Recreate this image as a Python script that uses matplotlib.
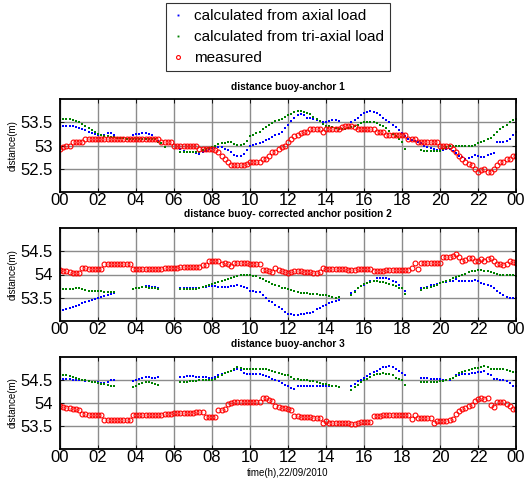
import numpy as np
import matplotlib
matplotlib.use("Agg")
import matplotlib.pyplot as plt

nan = float("nan")

# time axis: every 10 minutes, hours 0..24
hours = [i / 6 for i in range(145)]
xtick_vals = list(range(0, 25, 2))
xtick_labels = ["00", "02", "04", "06", "08", "10", "12", "14", "16", "18", "20", "22", "00"]

titles = ["distance buoy-anchor 1",
          "distance buoy- corrected anchor position 2",
          "distance buoy-anchor 3"]
series_names = ["calculated from axial load", "calculated from tri-axial load", "measured"]
ylims = [(52.0, 54.0), (53.0, 55.0), (53.0, 55.0)]
yticks = [[52.5, 53.0, 53.5], [53.5, 54.0, 54.5], [53.5, 54.0, 54.5]]
ytick_labels = [["52.5", "53", "53.5"], ["53.5", "54", "54.5"], ["53.5", "54", "54.5"]]

# ---- panel 1 ----
axial_1 = [
    53.4, 53.42, 53.43, 53.43, 53.42, 53.4,
    53.38, 53.36, 53.33, 53.3, 53.27, 53.24,
    53.22, 53.22, 53.23, 53.27, 53.26, 53.23,
    nan, nan, nan, nan, nan, 53.23,
    53.24, 53.25, 53.26, 53.27, 53.25, 53.22,
    53.15, 53.1, nan, nan, nan, nan,
    nan, nan, 52.93, 52.88, 52.86, 52.85,
    52.85, 52.83, 52.82, 52.85, 52.88, 52.92,
    52.95, 52.96, 52.97, 52.97, 52.93, 52.9,
    52.85, 52.8, 52.78, 52.78, 52.82, 52.9,
    53.0, 53.02, 53.04, 53.05, 53.08, 53.12,
    53.15, 53.18, 53.22, 53.25, 53.3, 53.37,
    53.45, 53.52, 53.6, 53.65, 53.67, 53.66,
    53.6, 53.59, 53.57, 53.55, 53.53, 53.5,
    53.5, 53.52, 53.55, 53.55, 53.53, nan,
    nan, nan, 53.5, 53.55, 53.6, 53.65,
    53.7, 53.72, 53.75, 53.73, 53.7, 53.65,
    53.6, 53.55, 53.5, 53.45, 53.4, 53.33,
    53.27, 53.2, 53.15, 53.12, 53.1, 53.07,
    53.05, 53.0, 52.97, 52.95, 52.92, 52.9,
    52.9, 52.9, 52.92, 52.93, 52.88, 52.83,
    52.78, 52.75, 52.72, 52.73, 52.76, 52.8,
    52.77, 52.75, 52.76, 52.8, 52.82, 52.84,
    53.07, 53.07, 53.08, 53.1, 53.15, 53.22,
    53.3]
triaxial_1 = [
    53.55, 53.56, 53.57, 53.56, 53.54, 53.52,
    53.5, 53.46, 53.43, 53.38, 53.33, 53.29,
    53.25, 53.23, 53.21, 53.2, 53.19, 53.18,
    53.17, 53.16, 53.16, 53.15, 53.15, 53.14,
    53.13, 53.13, 53.13, 53.13, 53.13, 53.13,
    53.13, 53.08, 53.05, 52.97, nan, nan,
    nan, nan, 52.87, 52.86, 52.85, 52.85,
    52.85, 52.85, 52.87, 52.9, 52.92, 52.95,
    52.97, 53.0, 53.03, 53.05, 53.06, 53.07,
    53.07, 53.04, 53.02, 53.02, 53.04, 53.1,
    53.2, 53.23, 53.27, 53.3, 53.35, 53.4,
    53.45, 53.48, 53.52, 53.55, 53.58, 53.62,
    53.65, 53.68, 53.72, 53.75, 53.74, 53.72,
    53.7, 53.67, 53.62, 53.58, 53.53, 53.47,
    53.43, 53.41, 53.4, 53.37, 53.35, 53.35,
    53.35, 53.37, 53.4, 53.42, 53.45, 53.48,
    53.5, 53.5, 53.5, 53.5, 53.48, 53.45,
    53.42, 53.38, 53.32, 53.25, 53.2, 53.13,
    53.07, 52.93, nan, nan, nan, nan,
    52.9, 52.89, 52.88, 52.88, 52.88, 52.88,
    52.88, 52.92, 52.97, 52.98, 53.0, 53.0,
    53.0, 53.0, 53.0, 53.0, 53.0, 53.02,
    53.05, 53.07, 53.1, 53.13, 53.17, 53.22,
    53.3, 53.35, 53.4, 53.45, 53.5, 53.55,
    53.58]
measured_1 = [
    52.93, 52.97, 53.0, 53.0, 53.07, 53.07,
    53.07, 53.07, 53.13, 53.13, 53.13, 53.13,
    53.13, 53.13, 53.13, 53.13, 53.13, 53.13,
    53.13, 53.13, 53.13, 53.13, 53.13, 53.13,
    53.13, 53.13, 53.13, 53.13, 53.13, 53.13,
    53.13, 53.13, 53.07, 53.07, 53.07, 53.07,
    53.0, 53.0, 53.0, 53.0, 53.0, 53.0,
    53.0, 53.0, 52.93, 52.93, 52.93, 52.93,
    52.93, 52.9, 52.85, 52.78, 52.72, 52.65,
    52.57, 52.57, 52.57, 52.57, 52.57, 52.6,
    52.65, 52.65, 52.65, 52.65, 52.72, 52.72,
    52.78, 52.85, 52.85, 52.93, 52.97, 53.0,
    53.07, 53.13, 53.2, 53.22, 53.27, 53.29,
    53.29, 53.36, 53.36, 53.36, 53.36, 53.3,
    53.36, 53.36, 53.36, 53.36, 53.36, 53.4,
    53.43, 53.43, 53.43, 53.4, 53.36, 53.36,
    53.36, 53.36, 53.36, 53.36, 53.29, 53.29,
    53.29, 53.22, 53.22, 53.22, 53.22, 53.22,
    53.22, 53.22, 53.15, 53.15, 53.15, 53.07,
    53.07, 53.07, 53.07, 53.07, 53.07, 53.07,
    53.0, 53.0, 53.0, 53.0, 52.93, 52.85,
    52.78, 52.72, 52.65, 52.6, 52.57, 52.5,
    52.42, 52.47, 52.5, 52.43, 52.42, 52.5,
    52.57, 52.65, 52.65, 52.7, 52.72, 52.78,
    52.78]

# ---- panel 2 ----
axial_2 = [
    53.23, 53.24, 53.26, 53.27, 53.3, 53.33,
    53.35, 53.38, 53.4, 53.43, 53.45, 53.48,
    53.5, 53.52, 53.53, 53.55, 53.57, 53.6,
    nan, nan, nan, nan, nan, 53.68,
    53.7, 53.72, 53.73, 53.75, 53.75, 53.74,
    53.73, 53.72, nan, nan, nan, nan,
    nan, nan, 53.7, 53.7, 53.7, 53.7,
    53.7, 53.7, 53.72, 53.73, 53.74, 53.75,
    53.75, 53.75, 53.74, 53.73, 53.73, 53.74,
    53.75, 53.76, 53.77, 53.76, 53.73, 53.7,
    53.65, 53.64, 53.63, 53.62, 53.55, 53.5,
    53.43, 53.4, 53.35, 53.3, 53.25, 53.2,
    53.15, 53.14, 53.13, 53.13, 53.15, 53.16,
    53.17, 53.18, 53.2, 53.25, 53.28, 53.32,
    53.35, 53.38, 53.4, 53.42, 53.46, nan,
    nan, nan, 53.6, 53.65, 53.72, 53.75,
    53.78, 53.82, 53.85, 53.87, 53.92, 53.92,
    53.93, 53.92, 53.9, 53.87, 53.83, 53.78,
    53.72, 53.65, nan, nan, nan, nan,
    53.7, 53.72, 53.74, 53.77, 53.78, 53.8,
    53.82, 53.83, 53.84, 53.85, 53.87, 53.9,
    53.87, 53.86, 53.85, 53.85, 53.87, 53.88,
    53.85, 53.82, 53.8, 53.78, 53.75, 53.7,
    53.65, 53.6, 53.55, 53.52, 53.5, 53.5,
    53.5]
triaxial_2 = [
    53.7, 53.69, 53.68, 53.68, 53.69, 53.7,
    53.7, 53.68, 53.67, 53.65, 53.65, 53.65,
    53.65, 53.64, 53.63, 53.63, 53.63, 53.63,
    nan, nan, nan, nan, nan, 53.68,
    53.7, 53.72, 53.73, 53.73, 53.72, 53.7,
    53.7, 53.68, nan, nan, nan, nan,
    nan, nan, 53.68, 53.68, 53.68, 53.68,
    53.68, 53.69, 53.7, 53.73, 53.75, 53.78,
    53.8, 53.82, 53.84, 53.87, 53.89, 53.91,
    53.93, 53.95, 53.97, 54.0, 54.0, 54.0,
    53.98, 53.97, 53.97, 53.93, 53.9, 53.87,
    53.83, 53.8, 53.78, 53.75, 53.72, 53.7,
    53.68, 53.66, 53.64, 53.62, 53.61, 53.6,
    53.6, 53.59, 53.58, 53.57, 53.56, 53.56,
    53.55, 53.53, 53.52, 53.5, 53.52, nan,
    nan, nan, 53.55, 53.62, 53.7, 53.75,
    53.8, 53.82, 53.84, 53.85, 53.85, 53.84,
    53.83, 53.82, 53.8, 53.78, 53.75, 53.72,
    53.7, 53.58, nan, nan, nan, nan,
    53.67, 53.7, 53.72, 53.73, 53.76, 53.78,
    53.82, 53.84, 53.86, 53.88, 53.92, 53.95,
    53.97, 54.0, 54.02, 54.05, 54.07, 54.08,
    54.1, 54.1, 54.08, 54.07, 54.05, 54.03,
    54.02, 54.0, 54.0, 54.0, 53.99, 53.98,
    53.97]
measured_2 = [
    54.1, 54.08, 54.07, 54.05, 54.04, 54.03,
    54.03, 54.15, 54.15, 54.12, 54.12, 54.12,
    54.12, 54.12, 54.22, 54.22, 54.22, 54.22,
    54.22, 54.22, 54.22, 54.22, 54.22, 54.12,
    54.12, 54.12, 54.12, 54.12, 54.12, 54.12,
    54.12, 54.12, 54.12, 54.15, 54.15, 54.15,
    54.15, 54.15, 54.17, 54.17, 54.17, 54.17,
    54.17, 54.17, 54.17, 54.2, 54.2, 54.3,
    54.3, 54.3, 54.3, 54.22, 54.25, 54.22,
    54.18, 54.25, 54.25, 54.25, 54.25, 54.25,
    54.22, 54.22, 54.22, 54.22, 54.1, 54.1,
    54.08, 54.05, 54.13, 54.1, 54.08, 54.05,
    54.03, 54.05, 54.08, 54.08, 54.07, 54.06,
    54.05, 54.05, 54.03, 54.03, 54.05, 54.15,
    54.12, 54.12, 54.12, 54.12, 54.12, 54.12,
    54.12, 54.1, 54.1, 54.1, 54.12, 54.12,
    54.12, 54.12, 54.12, 54.07, 54.07, 54.07,
    54.07, 54.1, 54.1, 54.1, 54.1, 54.1,
    54.1, 54.1, 54.1, 54.15, 54.25, 54.12,
    54.25, 54.25, 54.25, 54.25, 54.25, 54.25,
    54.25, 54.38, 54.38, 54.38, 54.4, 54.45,
    54.38, 54.3, 54.32, 54.35, 54.35, 54.3,
    54.3, 54.33, 54.3, 54.33, 54.35, 54.3,
    54.22, 54.22, 54.2, 54.22, 54.28, 54.26,
    54.25]

# ---- panel 3 ----
axial_3 = [
    54.52, 54.52, 54.52, 54.52, 54.51, 54.5,
    54.5, 54.49, 54.48, 54.47, 54.46, 54.45,
    54.45, 54.44, 54.43, 54.45, 54.5, 54.5,
    nan, nan, nan, nan, nan, 54.48,
    54.5, 54.53, 54.55, 54.57, 54.56, 54.55,
    54.55, 54.57, nan, nan, nan, nan,
    nan, nan, 54.57, 54.57, 54.58, 54.58,
    54.58, 54.57, 54.57, 54.57, 54.56, 54.55,
    54.55, 54.57, 54.6, 54.62, 54.65, 54.68,
    54.7, 54.72, 54.73, 54.72, 54.65, 54.63,
    54.63, 54.63, 54.62, 54.63, 54.6, 54.58,
    54.57, 54.53, 54.5, 54.48, 54.43, 54.4,
    54.38, 54.33, 54.3, 54.37, 54.37, 54.38,
    54.38, 54.38, 54.37, 54.37, 54.38, 54.37,
    54.37, 54.36, 54.36, 54.36, 54.35, nan,
    nan, nan, 54.37, 54.42, 54.47, 54.5,
    54.55, 54.58, 54.62, 54.67, 54.7, 54.75,
    54.78, 54.79, 54.8, 54.78, 54.75, 54.7,
    54.65, 54.6, nan, nan, nan, nan,
    54.55, 54.55, 54.54, 54.53, 54.53, 54.52,
    54.52, 54.51, 54.5, 54.5, 54.55, 54.6,
    54.6, 54.62, 54.62, 54.63, 54.65, 54.65,
    54.68, 54.68, 54.7, 54.63, 54.6, 54.53,
    54.52, 54.5, 54.5, 54.47, 54.43, 54.38,
    54.37]
triaxial_3 = [
    54.62, 54.61, 54.6, 54.58, 54.56, 54.54,
    54.52, 54.5, 54.49, 54.47, 54.46, 54.45,
    54.43, 54.42, 54.41, 54.4, 54.38, 54.37,
    nan, nan, nan, nan, nan, 54.35,
    54.38, 54.42, 54.43, 54.45, 54.45, 54.43,
    54.42, 54.4, nan, nan, nan, nan,
    nan, nan, 54.45, 54.45, 54.46, 54.47,
    54.47, 54.48, 54.5, 54.5, 54.5, 54.5,
    54.5, 54.53, 54.57, 54.6, 54.65, 54.68,
    54.7, 54.75, 54.78, 54.77, 54.75, 54.73,
    54.73, 54.73, 54.73, 54.73, 54.74, 54.73,
    54.72, 54.7, 54.67, 54.65, 54.63, 54.6,
    54.6, 54.56, 54.53, 54.52, 54.5, 54.5,
    54.5, 54.48, 54.47, 54.45, 54.43, 54.42,
    54.42, 54.4, 54.38, 54.37, 54.35, nan,
    nan, nan, 54.28, 54.35, 54.4, 54.45,
    54.5, 54.53, 54.57, 54.6, 54.62, 54.64,
    54.65, 54.64, 54.62, 54.6, 54.55, 54.52,
    54.5, 54.4, nan, nan, nan, nan,
    54.45, 54.45, 54.45, 54.45, 54.45, 54.45,
    54.47, 54.48, 54.5, 54.52, 54.55, 54.58,
    54.65, 54.67, 54.7, 54.72, 54.75, 54.77,
    54.77, 54.78, 54.8, 54.78, 54.75, 54.73,
    54.73, 54.74, 54.73, 54.72, 54.7, 54.68,
    54.68]
measured_3 = [
    53.93, 53.91, 53.9, 53.9, 53.88, 53.88,
    53.85, 53.77, 53.77, 53.75, 53.75, 53.75,
    53.75, 53.75, 53.63, 53.63, 53.63, 53.63,
    53.63, 53.63, 53.63, 53.63, 53.63, 53.75,
    53.75, 53.75, 53.75, 53.75, 53.75, 53.75,
    53.75, 53.75, 53.75, 53.77, 53.77, 53.77,
    53.78, 53.78, 53.78, 53.78, 53.78, 53.78,
    53.78, 53.8, 53.8, 53.8, 53.7, 53.7,
    53.7, 53.7, 53.85, 53.85, 53.87, 53.97,
    54.0, 54.03, 54.03, 54.03, 54.03, 54.03,
    54.03, 54.02, 54.02, 54.02, 54.1, 54.1,
    54.07, 54.05, 53.93, 53.92, 53.9, 53.9,
    53.87, 53.85, 53.72, 53.72, 53.7, 53.7,
    53.7, 53.7, 53.67, 53.67, 53.67, 53.57,
    53.6, 53.57, 53.57, 53.57, 53.57, 53.57,
    53.57, 53.57, 53.55, 53.55, 53.57, 53.58,
    53.58, 53.58, 53.58, 53.72, 53.72, 53.72,
    53.73, 53.73, 53.73, 53.73, 53.73, 53.73,
    53.73, 53.73, 53.75, 53.65, 53.75, 53.68,
    53.68, 53.68, 53.68, 53.68, 53.57, 53.6,
    53.6, 53.6, 53.6, 53.62, 53.65, 53.77,
    53.83, 53.88, 53.9, 53.93, 53.95, 54.05,
    54.08, 54.1, 54.08, 54.1, 53.95, 53.92,
    54.03, 54.03, 54.02, 53.98, 53.93, 53.88,
    53.87]

panels = [
    (axial_1, triaxial_1, measured_1),
    (axial_2, triaxial_2, measured_2),
    (axial_3, triaxial_3, measured_3),
]

plt.rcParams["font.family"] = ["Liberation Sans", "DejaVu Sans"]

W, H = 532, 479
fig = plt.figure(figsize=(W / 100, H / 100), dpi=100)

# axes boxes in pixels: (left, top, right, bottom)
boxes = [(60, 99, 516, 192), (60, 228, 516, 321), (60, 357, 516, 449)]
title_y = [87, 214, 344]

blue = (0, 0, 1)
green = (0, 0.5, 0)
red = (1, 0, 0)
handles = None
for k, (box, (ax_v, tri_v, meas_v)) in enumerate(zip(boxes, panels)):
    l, t, r, b = box
    ax = fig.add_axes([l / W, 1 - b / H, (r - l) / W, (b - t) / H])
    h1, = ax.plot(hours, ax_v, linestyle="none", marker="s", markersize=1.7,
                  color=blue, markeredgewidth=0, label=series_names[0])
    h2, = ax.plot(hours, tri_v, linestyle="none", marker="s", markersize=1.7,
                  color=green, markeredgewidth=0, label=series_names[1])
    h3, = ax.plot(hours, meas_v, linestyle="none", marker="o", markersize=3.5,
                  markerfacecolor="none", markeredgecolor=red,
                  markeredgewidth=0.8, label=series_names[2])
    if handles is None:
        handles = [h1, h2, h3]
    ax.set_xlim(0, 24)
    ax.set_ylim(*ylims[k])
    ax.set_xticks(xtick_vals)
    ax.set_xticklabels(xtick_labels, fontsize=12)
    ax.set_yticks(yticks[k])
    ax.set_yticklabels(ytick_labels[k], fontsize=12)
    ax.tick_params(direction="in", length=3, width=0.6, pad=1)
    ax.tick_params(axis="y", pad=5)
    ax.tick_params(top=True, right=True)
    ax.grid(True, color="#8c8c8c", linewidth=1.0, linestyle="-")
    ax.set_axisbelow(True)
    for s in ax.spines.values():
        s.set_linewidth(1.3)
    ax.set_ylabel("distance(m)", fontsize=7, labelpad=2)
    fig.text(((l + r) / 2) / W, 1 - title_y[k] / H, titles[k],
             fontsize=7.3, fontweight="bold", ha="center", va="center")

fig.text(((60 + 516) / 2) / W, 1 - 473 / H, "time(h),22/09/2010",
         fontsize=7, ha="center", va="center")

leg = fig.legend(handles=handles, loc="upper center",
                 bbox_to_anchor=(278 / W, 1 - 3 / H), fontsize=11,
                 frameon=True, fancybox=False, edgecolor="black",
                 handlelength=0.8, handletextpad=0.6, labelspacing=0.45,
                 borderpad=0.4, borderaxespad=0.0, markerscale=0.8)
leg.get_frame().set_linewidth(0.8)

fig.savefig("out.png", dpi=100)
